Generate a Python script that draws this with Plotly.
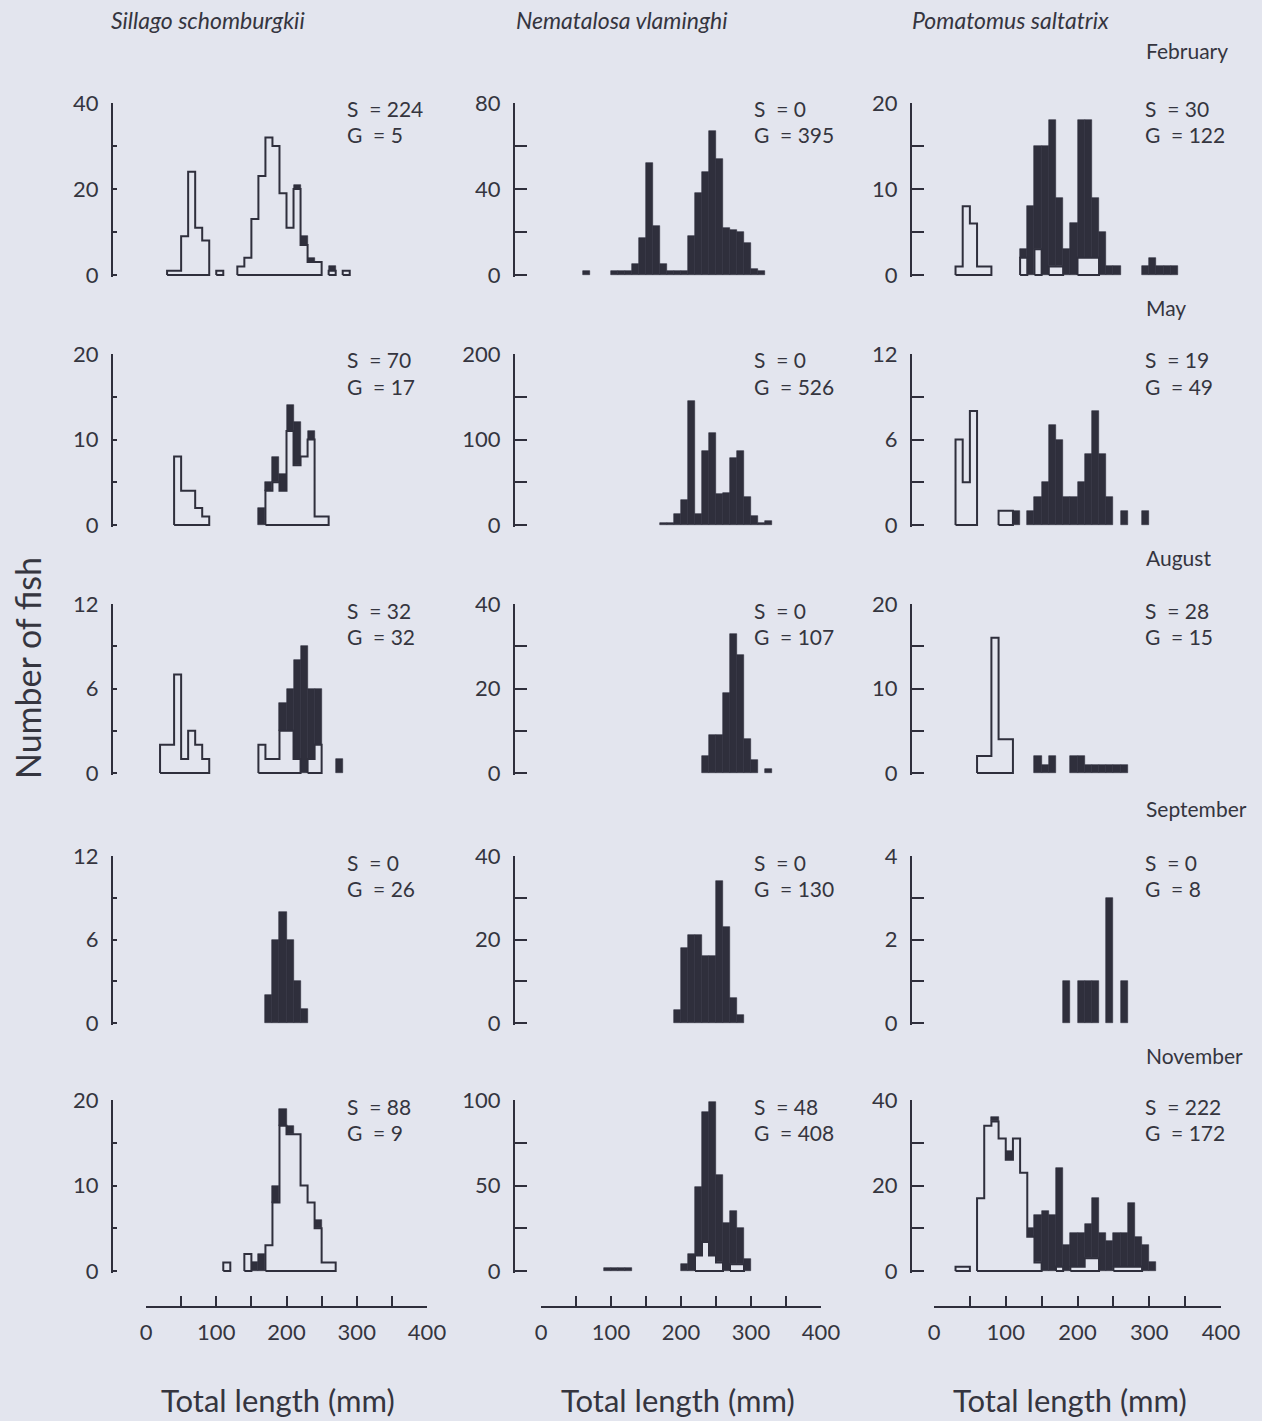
import plotly.graph_objects as go

# ---------------- data (bin start in mm, count); bins are 10 mm wide ----------------
BIN = 10
SPECIES = ["Sillago schomburgkii", "Nematalosa vlaminghi", "Pomatomus saltatrix"]
MONTHS = ["February", "May", "August", "September", "November"]
Y_MAX = [[40, 80, 20], [20, 200, 12], [12, 40, 20], [12, 40, 4], [20, 100, 40]]
S_TOTAL = [[224, 0, 30], [70, 0, 19], [32, 0, 28], [0, 0, 0], [88, 48, 222]]
G_TOTAL = [[5, 395, 122], [17, 526, 49], [32, 107, 15], [26, 130, 8], [9, 408, 172]]
X_TICKS = [0, 100, 200, 300, 400]
X_MINOR = [50, 150, 250, 350]

FEB_SIL_S = [(30, 1), (40, 1), (50, 9), (60, 24), (70, 11), (80, 8), (100, 1), (130, 2), (140, 4),
             (150, 13), (160, 23), (170, 32), (180, 30), (190, 19), (200, 11), (210, 20), (220, 7),
             (230, 3), (240, 3), (260, 1), (280, 1)]
FEB_SIL_G = [(210, 1), (220, 2), (230, 1), (260, 1)]
FEB_NEM_S = []
FEB_NEM_G = [(60, 2), (100, 2), (110, 2), (120, 2), (130, 5), (140, 17), (150, 52), (160, 23), (170, 5),
             (180, 2), (190, 2), (200, 2), (210, 18), (220, 38), (230, 48), (240, 67), (250, 54),
             (260, 22), (270, 21), (280, 20), (290, 15), (300, 3), (310, 2)]
FEB_POM_S = [(30, 1), (40, 8), (50, 6), (60, 1), (70, 1), (120, 2), (140, 3), (160, 1), (170, 1),
             (200, 2), (210, 2), (220, 2)]
FEB_POM_G = [(120, 1), (130, 8), (140, 12), (150, 15), (160, 17), (170, 8), (180, 3), (190, 6), (200, 16),
             (210, 16), (220, 7), (230, 5), (240, 1), (250, 1), (290, 1), (300, 2), (310, 1), (320, 1),
             (330, 1)]

MAY_SIL_S = [(40, 8), (50, 4), (60, 4), (70, 2), (80, 1), (170, 4), (180, 5), (190, 4), (200, 11),
             (210, 7), (220, 8), (230, 10), (240, 1), (250, 1)]
MAY_SIL_G = [(160, 2), (170, 1), (180, 3), (190, 2), (200, 3), (210, 5), (230, 1)]
MAY_NEM_S = []
MAY_NEM_G = [(170, 2), (180, 2), (190, 13), (200, 29), (210, 145), (220, 13), (230, 86), (240, 108),
             (250, 36), (260, 38), (270, 78), (280, 86), (290, 33), (300, 10), (310, 2), (320, 5)]
MAY_POM_S = [(30, 6), (40, 3), (50, 8), (90, 1), (100, 1)]
MAY_POM_G = [(110, 1), (130, 1), (140, 2), (150, 3), (160, 7), (170, 6), (180, 2), (190, 2), (200, 3),
             (210, 5), (220, 8), (230, 5), (240, 2), (260, 1), (290, 1)]

AUG_SIL_S = [(20, 2), (30, 2), (40, 7), (50, 1), (60, 3), (70, 2), (80, 1), (160, 2), (170, 1),
             (180, 1), (190, 3), (200, 3), (210, 1), (230, 1), (240, 2)]
AUG_SIL_G = [(190, 2), (200, 3), (210, 7), (220, 9), (230, 5), (240, 4), (270, 1)]
AUG_NEM_S = []
AUG_NEM_G = [(230, 4), (240, 9), (250, 9), (260, 19), (270, 33), (280, 28), (290, 8), (300, 3), (320, 1)]
AUG_POM_S = [(60, 2), (70, 2), (80, 16), (90, 4), (100, 4)]
AUG_POM_G = [(140, 2), (150, 1), (160, 2), (190, 2), (200, 2), (210, 1), (220, 1), (230, 1), (240, 1),
             (250, 1), (260, 1)]

SEP_SIL_S = []
SEP_SIL_G = [(170, 2), (180, 6), (190, 8), (200, 6), (210, 3), (220, 1)]
SEP_NEM_S = []
SEP_NEM_G = [(190, 3), (200, 18), (210, 21), (220, 21), (230, 16), (240, 16), (250, 34), (260, 23),
             (270, 6), (280, 2)]
SEP_POM_S = []
SEP_POM_G = [(180, 1), (200, 1), (210, 1), (220, 1), (240, 3), (260, 1)]

NOV_SIL_S = [(110, 1), (140, 2), (170, 3), (180, 8), (190, 17), (200, 16), (210, 16), (220, 10),
             (230, 8), (240, 5), (250, 1), (260, 1)]
NOV_SIL_G = [(150, 1), (160, 2), (180, 2), (190, 2), (200, 1), (240, 1)]
NOV_NEM_S = [(220, 9), (230, 17), (240, 9), (250, 5), (270, 4), (280, 4)]
NOV_NEM_G = [(90, 2), (100, 2), (110, 2), (120, 2), (200, 4), (210, 10), (220, 40), (230, 76), (240, 90),
             (250, 51), (260, 28), (270, 31), (280, 21), (290, 7)]
NOV_POM_S = [(30, 1), (40, 1), (60, 17), (70, 34), (80, 35), (90, 31), (100, 26), (110, 31), (120, 23),
             (130, 8), (140, 2), (170, 1), (190, 1), (200, 1), (210, 3), (220, 3), (250, 1), (260, 1),
             (270, 1), (280, 1)]
NOV_POM_G = [(80, 1), (100, 2), (130, 2), (140, 11), (150, 14), (160, 13), (170, 23), (180, 6), (190, 8),
             (200, 8), (210, 8), (220, 14), (230, 9), (240, 7), (250, 8), (260, 8), (270, 15), (280, 7),
             (290, 6), (300, 2)]

PANELS = [
    [(FEB_SIL_S, FEB_SIL_G), (FEB_NEM_S, FEB_NEM_G), (FEB_POM_S, FEB_POM_G)],
    [(MAY_SIL_S, MAY_SIL_G), (MAY_NEM_S, MAY_NEM_G), (MAY_POM_S, MAY_POM_G)],
    [(AUG_SIL_S, AUG_SIL_G), (AUG_NEM_S, AUG_NEM_G), (AUG_POM_S, AUG_POM_G)],
    [(SEP_SIL_S, SEP_SIL_G), (SEP_NEM_S, SEP_NEM_G), (SEP_POM_S, SEP_POM_G)],
    [(NOV_SIL_S, NOV_SIL_G), (NOV_NEM_S, NOV_NEM_G), (NOV_POM_S, NOV_POM_G)],
]

# ---------------- style / geometry ----------------
W, H = 1262, 1421
BG = "#e3e5ee"
INK = "#2f2f3c"
TXT = "#35353f"
FONT = "Lato"

COL_X0 = [146, 541, 934]       # pixel of 0 mm
COL_X400 = [427, 821, 1221]    # pixel of 400 mm
YAXIS_X = [112, 514, 911]
TICKLEN = [4, 12, 12]
ROW_TOP = [103, 354, 604, 856, 1100]
ROW_BOT = [275, 525, 773, 1023, 1271]
BOTTOM_AXIS_Y = 1307
SG_X = [345, 752, 1143]
TITLE_X = [208, 622, 1010]
XLABEL_X = [278, 678, 1070]
MONTH_Y = [50, 307, 557, 808, 1055]


def fx(px):
    return px / W


def fy(py):
    return 1 - py / H


def outline(pairs):
    d = dict(pairs)
    runs = []
    for b in sorted(d):
        if runs and runs[-1][-1] + BIN == b:
            runs[-1].append(b)
        else:
            runs.append([b])
    xs, ys = [], []
    for run in runs:
        xs.append(run[0]); ys.append(0)
        for b in run:
            xs += [b, b + BIN]
            ys += [d[b], d[b]]
        xs += [run[-1] + BIN, run[0]]
        ys += [0, 0]
        xs.append(None); ys.append(None)
    return xs, ys


fig = go.Figure()
layout = {}
annotations = []
k = 0
for r in range(5):
    for c in range(3):
        k += 1
        sfx = "" if k == 1 else str(k)
        xa, ya = "x" + sfx, "y" + sfx
        S, G = PANELS[r][c]
        ymax = Y_MAX[r][c]
        h = ROW_BOT[r] - ROW_TOP[r]
        pad_px = 2
        ymin = -ymax * pad_px / h

        if S:
            sx, sy = outline(S)
            fig.add_trace(go.Scatter(x=sx, y=sy, mode="lines", line=dict(color=INK, width=2),
                                     fill="toself", fillcolor=BG, xaxis=xa, yaxis=ya,
                                     hoverinfo="skip", showlegend=False))
        base = dict(S)
        fig.add_trace(go.Bar(x=[b + BIN / 2 for b, n in G], y=[n for b, n in G],
                             base=[base.get(b, 0) for b, n in G], width=BIN,
                             marker=dict(color=INK, line=dict(color=INK, width=0.6)),
                             xaxis=xa, yaxis=ya, hoverinfo="skip", showlegend=False))

        layout["xaxis" + sfx] = dict(domain=[fx(COL_X0[c]), fx(COL_X400[c])], range=[0, 400],
                                     visible=False, anchor=ya, automargin=False)
        layout["yaxis" + sfx] = dict(
            domain=[fy(ROW_BOT[r] + pad_px), fy(ROW_TOP[r])], range=[ymin, ymax],
            anchor="free", position=fx(YAXIS_X[c]), side="left", automargin=False,
            showline=True, linecolor=INK, linewidth=2, showgrid=False, zeroline=False,
            ticks="inside", ticklen=TICKLEN[c], tickwidth=2, tickcolor=INK,
            tickmode="array", tickvals=[0, ymax / 2, ymax],
            ticktext=[str(v) for v in (0, ymax // 2, ymax)],
            minor=dict(tickmode="array", tickvals=[ymax / 4, 3 * ymax / 4], ticks="inside",
                       ticklen=TICKLEN[c], tickwidth=2, tickcolor=INK),
            tickfont=dict(family=FONT, size=22, color=TXT), ticklabelstandoff=8,
        )
        annotations.append(dict(x=fx(SG_X[c]), y=fy(ROW_TOP[r] + 6), xref="paper", yref="paper",
                                text=f"S  = {S_TOTAL[r][c]}", showarrow=False, xanchor="left",
                                yanchor="middle", font=dict(family=FONT, size=21, color=TXT)))
        annotations.append(dict(x=fx(SG_X[c]), y=fy(ROW_TOP[r] + 32), xref="paper", yref="paper",
                                text=f"G  = {G_TOTAL[r][c]}", showarrow=False, xanchor="left",
                                yanchor="middle", font=dict(family=FONT, size=21, color=TXT)))

# bottom length axes (one per column)
for c in range(3):
    k += 1
    sfx = str(k)
    fig.add_trace(go.Scatter(x=[0, 400], y=[0, 0], mode="markers", marker=dict(opacity=0),
                             xaxis="x" + sfx, yaxis="y" + sfx, hoverinfo="skip", showlegend=False))
    layout["xaxis" + sfx] = dict(
        domain=[fx(COL_X0[c]), fx(COL_X400[c])], range=[0, 400], anchor="free",
        position=fy(BOTTOM_AXIS_Y), side="bottom", automargin=False,
        showline=True, linecolor=INK, linewidth=2,
        showgrid=False, zeroline=False, ticks="inside", ticklen=10, tickwidth=2, tickcolor=INK,
        tickmode="array", tickvals=X_TICKS, ticktext=[str(v) for v in X_TICKS],
        minor=dict(tickmode="array", tickvals=X_MINOR, ticks="inside", ticklen=10, tickwidth=2,
                   tickcolor=INK),
        tickfont=dict(family=FONT, size=22, color=TXT), ticklabelstandoff=6,
    )
    layout["yaxis" + sfx] = dict(domain=[fy(BOTTOM_AXIS_Y), fy(BOTTOM_AXIS_Y - 15)], range=[0, 1],
                                 visible=False, anchor="x" + sfx, automargin=False)

for c in range(3):
    annotations.append(dict(x=fx(TITLE_X[c]), y=fy(20), xref="paper", yref="paper",
                            text=f"<i>{SPECIES[c]}</i>", showarrow=False, xanchor="center",
                            yanchor="middle", font=dict(family=FONT, size=23, color=TXT)))
    annotations.append(dict(x=fx(XLABEL_X[c]), y=fy(1400), xref="paper", yref="paper",
                            text="Total length (mm)", showarrow=False, xanchor="center",
                            yanchor="middle", font=dict(family=FONT, size=31, color=TXT)))
for r in range(5):
    annotations.append(dict(x=fx(1144), y=fy(MONTH_Y[r]), xref="paper", yref="paper",
                            text=MONTHS[r], showarrow=False, xanchor="left", yanchor="middle",
                            font=dict(family=FONT, size=21, color=TXT)))
annotations.append(dict(x=fx(27), y=fy(668), xref="paper", yref="paper", text="Number of fish",
                        showarrow=False, textangle=-90, xanchor="center", yanchor="middle",
                        font=dict(family=FONT, size=34, color=TXT)))

fig.update_layout(
    width=W, height=H, autosize=False, margin=dict(l=0, r=0, t=0, b=0, pad=0),
    paper_bgcolor=BG, plot_bgcolor="rgba(0,0,0,0)", showlegend=False,
    barmode="overlay", bargap=0, annotations=annotations, **layout,
)
fig.write_html(
    "out.html",
    config={"responsive": False, "displayModeBar": False},
    post_script="document.body.style.margin='0';document.body.style.overflow='hidden';"
                "document.body.style.background='" + BG + "';",
)
